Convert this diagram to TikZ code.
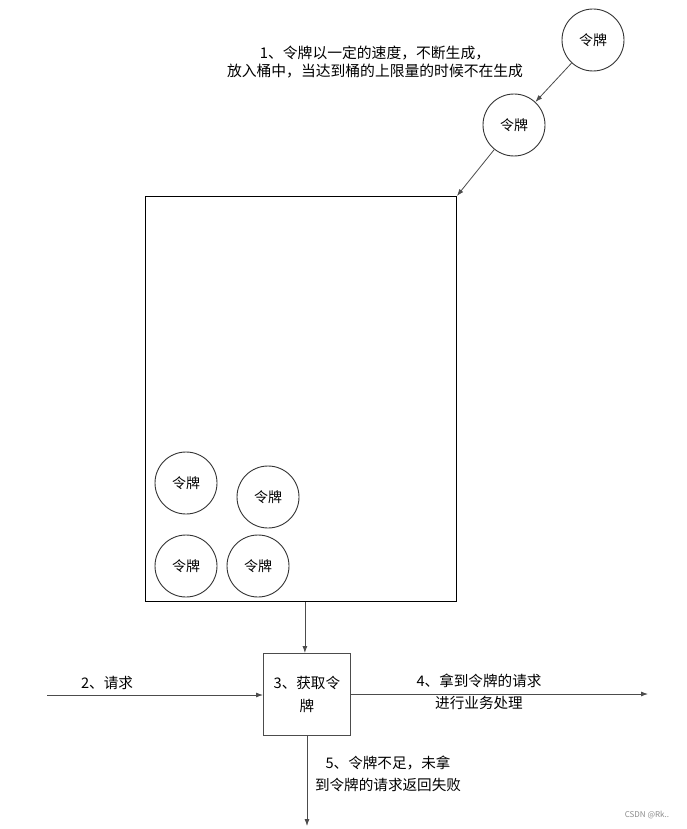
\documentclass[tikz,border=0pt]{standalone}
\usepackage{fontspec}
\setmainfont{Noto Sans CJK SC}
\usetikzlibrary{arrows.meta}
\begin{document}
\begin{tikzpicture}[x=1pt,y=-1pt,
  tok/.style={circle,draw=black!80,line width=0.9pt,minimum size=62pt,inner sep=0pt,font=\fontsize{14}{16}\selectfont},
  lbl/.style={align=center,font=\fontsize{14.6}{22}\selectfont},
  arr/.style={draw=black!70,line width=0.8pt,-{Latex[length=7pt,width=5pt]}}]
\useasboundingbox[fill=white] (0,0) rectangle (686,829);
\node[tok] (t1) at (593,40) {令牌};
\node[tok] (t2) at (514,125) {令牌};
\node[draw=black,line width=0.9pt,minimum width=311pt,minimum height=405pt,inner sep=0pt,anchor=north west] (bucket) at (145,196) {};
\node[tok] (a) at (186,483) {令牌};
\node[tok] (b) at (268,497) {令牌};
\node[tok] (c) at (186,566) {令牌};
\node[tok] (d) at (258,566) {令牌};
\node[lbl,font=\fontsize{14.8}{18.5}\selectfont] (l1) at (375,62) {1、令牌以一定的速度，不断生成，\\放入桶中，当达到桶的上限量的时候不在生成};
\node[draw=black!70,line width=0.8pt,minimum width=87pt,minimum height=82pt,inner sep=0pt,anchor=north west,lbl,font=\fontsize{14.6}{23}\selectfont,text width=80pt] (get) at (263,653) {3、获取令\\牌};
\coordinate (in) at (47,695);
\coordinate (out) at (648,694);
\coordinate (down) at (307,826);
\draw[arr] (t1) -- (t2);
\draw[arr] (t2) -- (bucket.north east);
\draw[arr] (bucket.south -| get.north) ++(-2,0) -- ([xshift=-2pt]get.north);
\draw[arr] (in) -- (get.west |- in);
\draw[arr] (get.east |- out) -- (out);
\draw[arr] (get.south -| down) -- (down);
\node[lbl] (l2) at (107,683) {2、请求};
\node[lbl] (l4) at (479,692) {4、拿到令牌的请求\\进行业务处理};
\node[lbl] (l5) at (388,774) {5、令牌不足，未拿\\到令牌的请求返回失败};
\node[font=\fontsize{8}{10}\selectfont,text=black!45] (wm) at (647,815) {CSDN @Rk..};
\end{tikzpicture}
\end{document}
